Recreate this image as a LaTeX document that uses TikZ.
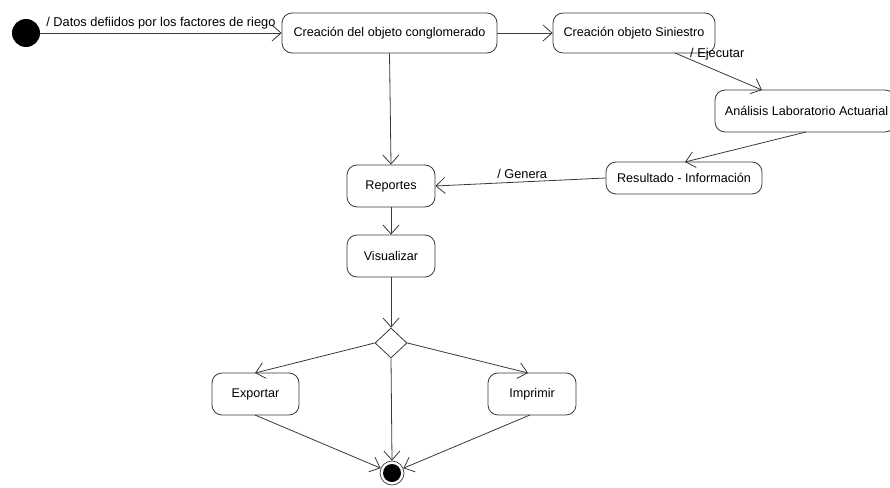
\documentclass[tikz,border=0pt]{standalone}
\usepackage{fontspec}
\setmainfont{Liberation Sans}
\usetikzlibrary{arrows.meta,shapes.geometric}
\definecolor{ln}{HTML}{3A3A3A}
\begin{document}
\begin{tikzpicture}[x=1pt,y=-1pt,
  state/.style={draw=ln,line width=0.8pt,rounded corners=10pt,align=center,inner sep=0pt,font=\fontsize{12.6}{14}\selectfont},
  flow/.style={draw=ln,line width=0.8pt,-{Straight Barb[length=9pt,width=16pt,line width=0.8pt]}},
  lbl/.style={font=\fontsize{12.8}{14}\selectfont,inner sep=1pt}]
\useasboundingbox (0,0) rectangle (890,487);
\fill[white] (0,0) rectangle (890,487);
\node[circle,fill=black,minimum size=28pt,inner sep=0pt] (start) at (26,33) {};
\node[state,minimum width=215pt,minimum height=40pt] (cong) at (389.5,33) {Creación del objeto conglomerado};
\node[state,minimum width=162pt,minimum height=40pt] (sin) at (634,33) {Creación objeto Siniestro};
\node[state,minimum width=180pt,minimum height=42pt] (ana) at (805,111) {\hspace*{3pt}Análisis Laboratorio Actuarial};
\node[state,minimum width=156pt,minimum height=32pt] (res) at (684,178) {Resultado - Información};
\node[state,minimum width=88pt,minimum height=42pt] (rep) at (391,186) {Reportes};
\node[state,minimum width=88pt,minimum height=42pt] (vis) at (391,256) {Visualizar};
\node[diamond,draw=ln,line width=0.8pt,minimum width=32pt,minimum height=30pt,inner sep=0pt] (dec) at (391,343) {};
\node[state,minimum width=87pt,minimum height=42pt] (exp) at (255.5,394) {Exportar};
\node[state,minimum width=88pt,minimum height=42pt] (imp) at (532,394) {Imprimir};
\node[circle,draw=ln,line width=0.7pt,minimum size=24pt,inner sep=0pt] (fin) at (392,473) {};
\fill[black] (fin.center) circle (9pt);

\coordinate (sinout) at (675,53);
\coordinate (anain) at (762,90);
\coordinate (anaout) at (806,132);
\coordinate (resin) at (685,162);
\coordinate (expin) at (255,373);
\coordinate (impin) at (528,373);
\coordinate (expout) at (255,415);
\coordinate (impout) at (530,415);

\draw[flow] (start) -- (cong) node[lbl,pos=0.5,above=2pt] {/ Datos defiidos por los factores de riego};
\draw[flow] (cong) -- (sin);
\draw[flow] (sinout) -- (anain);
\node[lbl,anchor=west] (ejl) at (689,54) {/ Ejecutar};
\draw[flow] (anaout) -- (resin);
\draw[flow] (res.west) -- (rep.east) node[lbl,pos=0.49,above=2pt] {/ Genera};
\draw[flow] (cong.south) -- (rep.north);
\draw[flow] (rep) -- (vis);
\draw[flow] (vis) -- (dec.north);
\draw[flow] (dec.west) -- (expin);
\draw[flow] (dec.east) -- (impin);
\draw[flow] (dec.south) -- (fin.north);
\draw[flow] (expout) -- (fin);
\draw[flow] (impout) -- (fin);
\end{tikzpicture}
\end{document}
